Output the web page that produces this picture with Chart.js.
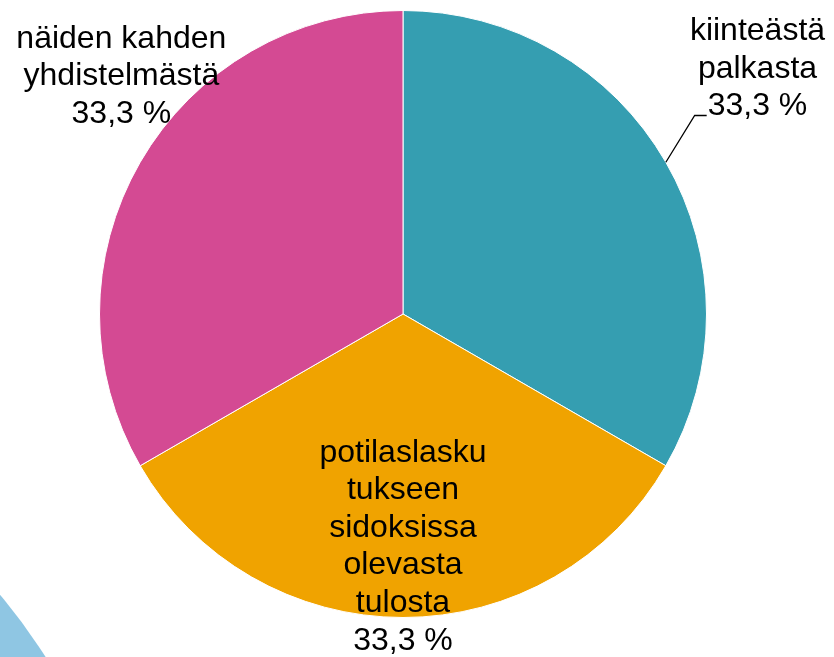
<!DOCTYPE html>
<html>
<head>
<meta charset="utf-8">
<script src="https://cdn.jsdelivr.net/npm/chart.js@4"></script>
<style>
  html, body { margin: 0; padding: 0; background: #fff; }
  #wrap { width: 834px; height: 657px; position: relative; }
</style>
</head>
<body>
<div id="wrap"><canvas id="pie" width="834" height="657"></canvas></div>
<script>
// categories (already wrapped the way the original shows them)
const categories = [
  ["kiinteästä", "palkasta"],
  ["potilaslasku", "tukseen", "sidoksissa", "olevasta", "tulosta"],
  ["näiden kahden", "yhdistelmästä"]
];
const shares = [33.3, 33.3, 33.3];
const sliceColors = ["#359EB1", "#F0A300", "#D44A93"];

// where each label sits, as a fraction of the radius from the pie centre
const labelSpots = [
  { fx: 1.168, fy: -0.778, leader: true },
  { fx: 0, fy: 0.796, leader: false },
  { fx: -0.928, fy: -0.753, leader: false }
];

const fontSize = 32;
const lineHeight = 37.6;

const backdrop = {
  id: 'backdrop',
  beforeDraw(chart) {
    const ctx = chart.ctx;
    ctx.save();
    ctx.fillStyle = '#8FC6E3';
    ctx.beginPath();
    ctx.arc(-460, 980, 600, 0, Math.PI * 2);
    ctx.fill();
    ctx.restore();
  }
};

const sliceLabels = {
  id: 'sliceLabels',
  afterDraw(chart) {
    const ctx = chart.ctx;
    const arcs = chart.getDatasetMeta(0).data;
    ctx.save();
    ctx.font = fontSize + 'px "Liberation Sans", Arial, sans-serif';
    ctx.fillStyle = '#000';
    ctx.textAlign = 'center';
    ctx.textBaseline = 'alphabetic';
    arcs.forEach((arc, i) => {
      const r = arc.outerRadius;
      const x = arc.x + labelSpots[i].fx * r;
      const y = arc.y + labelSpots[i].fy * r;
      const pct = shares[i].toFixed(1).replace('.', ',') + ' %';
      const lines = categories[i].concat([pct]);
      const top = y - (lines.length - 1) * lineHeight / 2;
      lines.forEach((t, k) => ctx.fillText(t, x, top + k * lineHeight));

      if (labelSpots[i].leader) {
        const mid = (arc.startAngle + arc.endAngle) / 2;
        const sx = arc.x + Math.cos(mid) * r;
        const sy = arc.y + Math.sin(mid) * r;
        const pctW = ctx.measureText(pct).width;
        const ly = top + (lines.length - 1) * lineHeight;
        const ex = x - pctW / 2 - 1;
        ctx.strokeStyle = '#000';
        ctx.lineWidth = 1.3;
        ctx.beginPath();
        ctx.moveTo(sx, sy);
        ctx.lineTo(ex - 12, ly);
        ctx.lineTo(ex, ly);
        ctx.stroke();
      }
    });
    ctx.restore();
  }
};

new Chart(document.getElementById('pie'), {
  type: 'pie',
  data: {
    labels: categories.map(c => c.join(' ')),
    datasets: [{
      data: shares,
      backgroundColor: sliceColors,
      borderColor: '#ffffff',
      borderWidth: 1
    }]
  },
  options: {
    responsive: false,
    animation: false,
    layout: { padding: { top: 10, bottom: 39, left: 0, right: 28 } },
    plugins: {
      legend: { display: false },
      tooltip: { enabled: false }
    }
  },
  plugins: [backdrop, sliceLabels]
});
</script>
</body>
</html>
